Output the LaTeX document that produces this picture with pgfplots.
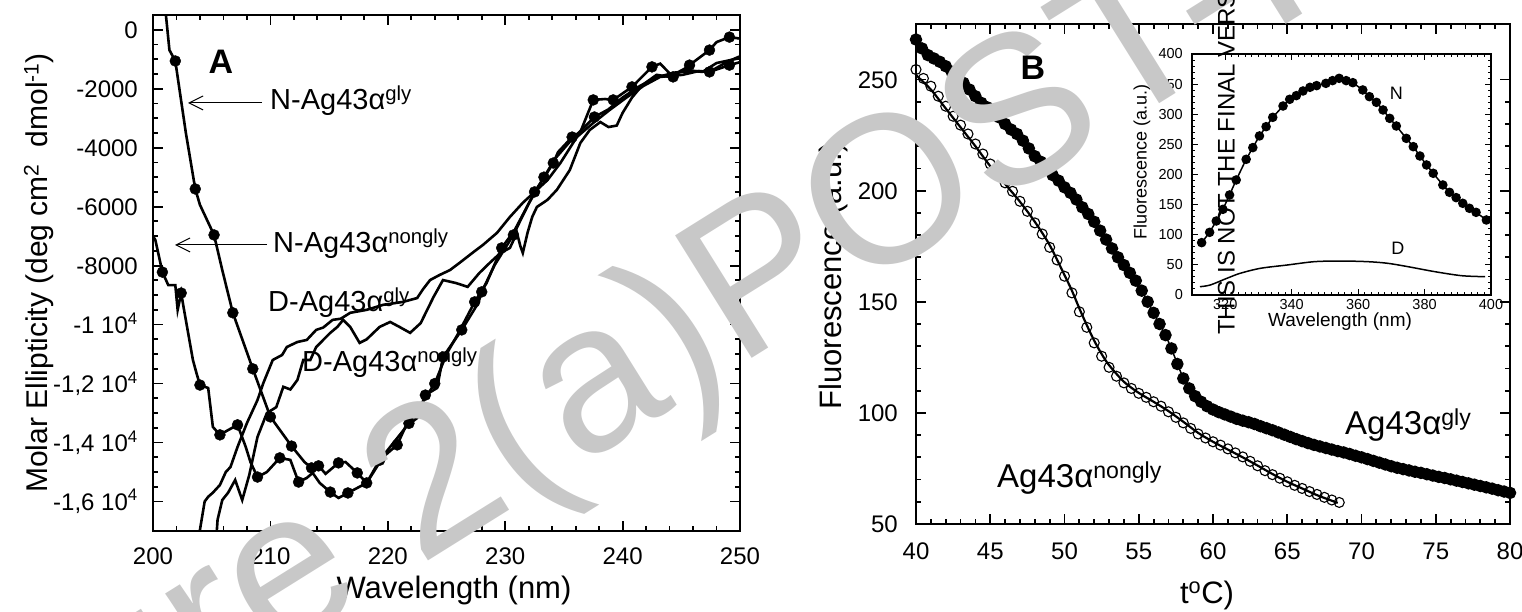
\documentclass[border=0pt]{standalone}
\usepackage{fontspec}
\setmainfont{Liberation Sans}
\usepackage{pgfplots}
\pgfplotsset{compat=1.18}
\usetikzlibrary{arrows.meta}
\newcommand{\fs}[1]{\fontsize{#1}{#1}\selectfont}
\definecolor{wm}{RGB}{200,200,200}
\pgfplotsset{
  mystyle/.style={scale only axis, tick align=inside, tick pos=both,
    major tick length=10pt, minor tick length=5pt,
    every tick/.append style={line width=1.8pt, black},
    axis line style={line width=2.5pt},
    /pgf/number format/assume math mode=true, /pgf/number format/1000 sep={}},
}
\begin{document}
\begin{tikzpicture}[x=1pt,y=1pt]
\useasboundingbox (0,0) rectangle (1522,612);
\clip (0,0) rectangle (1522,612);
% ---------------- Panel A ----------------
\begin{axis}[mystyle,
  at={(153pt,81pt)}, anchor=south west, width=587pt, height=516pt,
  xmin=200, xmax=250, ymin=-17000, ymax=500,
  xtick={200,210,220,230,240,250}, xticklabels={200,210,220,230,240,250},
  minor x tick num=4,
  ytick={0,-2000,-4000,-6000,-8000,-10000,-12000,-14000,-16000},
  yticklabels={0,-2000,-4000,-6000,-8000,{-1 10\textsuperscript{4}},{-1,2 10\textsuperscript{4}},{-1,4 10\textsuperscript{4}},{-1,6 10\textsuperscript{4}}},
  minor y tick num=3, scaled y ticks=false,
  xticklabel style={font=\fs{24}, inner sep=0pt, anchor=north, yshift=-17pt},
  yticklabel style={font=\fs{24}, inner sep=0pt, anchor=base east, xshift=-15pt, yshift=-8.5pt},
]
% N-gly line
\addplot[black, line width=2.6pt] coordinates {
(201.1,500) (201.4,-690) (201.9,-1060) (202.8,-3500) (203.6,-5400) (204.0,-5940) (205.2,-6960) (205.9,-8150) (206.8,-9600) (208.5,-11500) (210.0,-13130) (211.8,-14120) (212.9,-14660) (213.5,-14860) (214.1,-14790) (214.7,-15060) (215.8,-14690) (216.4,-14660) (217.4,-15030) (218.2,-15370)
(219.6,-14490) (220.8,-14080) (221.5,-13470) (222.5,-13170) (223.2,-12390) (224.2,-12150) (224.7,-11100) (226.3,-10180) (227.7,-9270) (228.0,-8890) (229.1,-7980) (230.7,-6960) (231.4,-6380) (232.5,-5500) (233.0,-5200) (234.1,-4520) (234.5,-4150) (235.7,-3640) (236.4,-3470) (237.5,-2380) (238.5,-2350) (239.2,-2380) (240.8,-1940) (242.5,-1260) (243.2,-1150) (244.3,-1600) (245.7,-1200) (247.4,-690) (248.0,-420) (249.1,-250) (250,-300)};
\addplot[only marks, mark=*, mark size=5.5pt, black] coordinates {
(201.9,-1060) (203.6,-5400) (205.2,-6960) (206.8,-9600) (208.5,-11500) (210.0,-13130) (211.8,-14120) (213.5,-14860) (214.1,-14790) (215.8,-14690) (217.4,-15030)
(220.8,-14080) (223.2,-12390) (224.7,-11100) (226.3,-10180) (228.0,-8890) (230.7,-6960) (232.5,-5500) (234.1,-4520) (235.7,-3640) (237.5,-2380) (239.2,-2380) (240.8,-1940) (242.5,-1260) (244.3,-1600) (245.7,-1200) (247.4,-690) (249.1,-250)};
% N-nongly line
\addplot[black, line width=2.6pt] coordinates {
(200.0,-7000) (200.2,-7130) (200.8,-8220) (201.3,-8660) (201.9,-8660) (202.1,-9500) (202.4,-8930) (202.6,-9400) (203.4,-11200) (203.7,-11640) (204.0,-12050) (204.7,-12150) (205.1,-13470) (205.7,-13740) (206.3,-13600) (207.2,-13400) (207.9,-14150) (208.3,-14660) (208.9,-15170) (209.7,-15000) (210.8,-14520) (211.7,-14590) (212.4,-15340) (213.1,-15200) (213.6,-15030) (214.2,-15370) (215.1,-15680) (215.8,-15880) (216.6,-15710) (218.2,-15370)
(219.3,-14600) (220.5,-14000) (221.8,-13350) (223.0,-12600) (224.0,-12000) (225.0,-11000) (226.0,-10300) (227.4,-9230) (228.4,-8600) (229.7,-7400) (230.8,-6800) (232.0,-5900) (233.3,-5000) (234.3,-4350) (235.5,-3800) (237.6,-2960) (238.8,-2700) (240.0,-2300) (241.5,-1900) (243.0,-1600) (244.5,-1450) (246.0,-1400) (247.4,-1430) (249.1,-1200) (250,-1100)};
\addplot[only marks, mark=*, mark size=5.5pt, black] coordinates {
(200.8,-8220) (202.4,-8930) (204.0,-12050) (205.7,-13740) (207.2,-13400) (208.9,-15170) (210.8,-14520) (212.4,-15340) (215.1,-15680) (216.6,-15710) (218.2,-15370)
(219.3,-14600) (221.8,-13350) (224.0,-12000) (227.4,-9230) (229.7,-7400) (233.3,-5000) (237.6,-2960) (247.4,-1430) (249.1,-1200)};
% D-gly
\addplot[black, line width=2.6pt] coordinates {
(203.9,-17200) (204.0,-16960) (204.4,-16000) (204.7,-15840) (205.1,-15700) (205.7,-15440) (206.2,-15000) (206.6,-14830) (207.2,-14150) (208.0,-13340) (208.9,-12560) (209.4,-11980) (210.2,-11200) (211.0,-11030) (211.4,-10760) (212.3,-10590) (213.1,-10520) (213.9,-10180) (214.5,-10100) (215.3,-9840) (216.0,-9800) (216.8,-9600) (218.2,-9500) (219.6,-9330) (221.3,-9230) (222.5,-9100) (223.0,-8800) (223.6,-8490) (224.4,-8320) (225.3,-8150) (226.1,-7910) (227.2,-7570) (228.1,-7300) (229.3,-6890) (230.4,-6350) (231.5,-5870) (232.7,-5430) (233.6,-5100) (234.7,-4520) (236.1,-3640) (237.5,-3160) (238.9,-2720) (240.4,-2280) (241.8,-1900) (243.2,-1600) (245.1,-1530) (246.5,-1400) (247.4,-1430) (248.9,-1090) (250,-900)};
% D-nongly
\addplot[black, line width=2.6pt] coordinates {
(205.4,-17200) (205.5,-16620) (205.9,-15950) (206.4,-15700) (207.0,-15270) (207.6,-15950) (208.2,-15100) (208.9,-13810) (209.7,-13000) (210.5,-12800) (211.1,-12110) (211.7,-12200) (212.3,-11880) (212.8,-11200) (213.4,-11200) (213.9,-10760) (215.1,-10280) (215.7,-10080) (216.2,-9840) (216.8,-10080) (217.6,-10620) (218.2,-10500) (219.3,-10080) (220.2,-9910) (221.0,-10080) (221.9,-10280) (222.8,-9950) (223.9,-9060) (224.7,-8490) (225.8,-8590) (226.8,-8720) (227.8,-8250) (228.7,-7900) (229.6,-7570) (230.4,-7400) (231.0,-6890) (231.3,-7350) (231.5,-7570) (231.9,-6890) (232.3,-6350) (232.7,-6010) (233.6,-5770) (234.4,-5430) (235.5,-4760) (236.4,-3840) (237.2,-3400) (238.1,-3130) (238.8,-3300) (239.5,-3250) (240.0,-2820) (240.8,-2300) (241.7,-1870) (242.9,-1530) (244.0,-1600) (245.1,-1360) (246.8,-1430) (248.0,-1130) (250,-960)};
\end{axis}
% ---------------- Panel B ----------------
\begin{axis}[mystyle,
  at={(916pt,88pt)}, anchor=south west, width=594pt, height=500pt,
  xmin=40, xmax=80, ymin=50, ymax=275,
  xtick={40,45,...,80}, minor x tick num=4,
  ytick={50,100,...,250}, minor y tick num=4,
  xticklabel style={font=\fs{24}, inner sep=0pt, anchor=north, yshift=-19pt},
  yticklabel style={font=\fs{24}, inner sep=0pt, anchor=base east, xshift=-18pt, yshift=-8.5pt},
]
\addplot[black, line width=1.5pt, mark=*, mark size=5.5pt] coordinates {
(40.0,268) (40.4,264) (40.8,261) (41.2,259.5) (41.6,258) (42.0,256) (42.4,253.5) (42.8,251) (43.2,248.5) (43.6,245.5) (44.0,242.5) (44.4,239.5) (44.8,237.5) (45.2,235.5) (45.6,233) (46.0,230) (46.4,227.5) (46.8,225.5) (47.2,222.5) (47.6,219) (48.0,215.5) (48.4,213) (48.8,210) (49.2,207) (49.6,204.5) (50.0,201.5) (50.4,199) (50.8,196) (51.2,192.5) (51.6,189.5) (52.0,186) (52.4,182) (52.8,178) (53.2,174) (53.6,170) (54.0,166.5) (54.4,163) (54.8,159.5) (55.2,155) (55.6,150) (56.0,145) (56.4,140) (56.8,135) (57.2,129) (57.6,122) (58.0,115.5) (58.4,111) (58.8,107.5) (59.2,105) (59.6,103) (60.0,101.5) (60.4,100.3) (60.8,99.3) (61.2,98.3) (61.6,97.3) (62.0,96.5) (62.4,95.8) (62.8,95) (63.2,94) (63.6,93.1) (64.0,92.2) (64.4,91.2) (64.8,90.2) (65.2,89.2) (65.6,88.2) (66.0,87.3) (66.4,86.4) (66.8,85.6) (67.2,84.9) (67.6,84.2) (68.0,83.5) (68.4,82.8) (68.8,82.2) (69.2,81.5) (69.6,80.7) (70.0,80) (70.4,79.2) (70.8,78.4) (71.2,77.6) (71.6,76.8) (72.0,76) (72.4,75.3) (72.8,74.7) (73.2,74.1) (73.6,73.5) (74.0,73) (74.4,72.4) (74.8,71.8) (75.2,71.2) (75.6,70.7) (76.0,70.1) (76.4,69.5) (76.8,68.9) (77.2,68.3) (77.6,67.7) (78.0,67.1) (78.4,66.5) (78.8,65.9) (79.2,65.2) (79.6,64.6) (80.0,64)};
\addplot[only marks, black, mark=o, mark size=5pt, mark options={line width=1.1pt}] coordinates {
(40.0,254.5) (40.5,250.5) (41.0,247) (41.5,242.5) (42.0,238) (42.5,233.5) (43.0,229.5) (43.5,225.5) (44.0,221) (44.5,216.5) (45.0,212) (45.5,207) (46.0,203.5) (46.5,199.7) (47.0,195.2) (47.5,190.7) (48.0,185.5) (48.5,180.5) (49.0,174.5) (49.5,168.8) (50.0,161.5) (50.5,154) (51.0,145.5) (51.5,138.5) (52.0,131.5) (52.5,125.5) (53.0,120.5) (53.5,116.5) (54.0,113.5) (54.5,111) (55.0,108.8) (55.5,107) (56.0,105) (56.5,103) (57.0,100.5) (57.5,98) (58.0,95.5) (58.5,93) (59.0,90.5) (59.5,88.7) (60.0,87) (60.5,85.5) (61.0,83.8) (61.5,82) (62.0,80.2) (62.5,78.2) (63.0,76.2) (63.5,74) (64.0,72.2) (64.5,70.6) (65.0,69) (65.5,67.4) (66.0,66) (66.5,64.6) (67.0,63.3) (67.5,62) (68.0,60.8) (68.5,59.7)};
\addplot[black, line width=2.2pt, smooth] coordinates {
(40,252) (41,245.5) (42,237) (43,228.5) (44,220) (45,211) (46,203) (47,195) (48,186) (49,175.5) (50,162) (50.5,155) (51,147) (51.5,139.5) (52,132.5) (52.5,126.5) (53,121.5) (54,114) (55,109) (56,105) (57,100.8) (58,96) (59,91) (60,87) (61,83.5) (62,80) (63,76.3) (64,72.5) (65,69) (66,66) (67,63) (68.4,59.5)};
\end{axis}
% ---------------- Inset ----------------
\begin{axis}[mystyle,
  at={(1192pt,317pt)}, anchor=south west, width=299pt, height=241pt,
  axis background/.style={fill=white},
  xmin=310, xmax=400, ymin=0, ymax=400,
  xtick={320,340,...,400}, minor x tick num=9,
  ytick={0,50,...,400}, minor y tick num=4,
  major tick length=6pt, minor tick length=3pt,
  every tick/.append style={line width=1pt},
  axis line style={line width=1.5pt},
  xticklabel style={font=\fs{14.5}, inner sep=0pt, anchor=north, yshift=-4pt},
  yticklabel style={font=\fs{14.5}, inner sep=0pt, anchor=base east, xshift=-9pt, yshift=-5pt},
]
\addplot[black, line width=1.5pt] coordinates {(312.5,82) (312.9,86.9)};
\addplot[black, line width=1.5pt, mark=*, mark size=4pt] coordinates {
(312.9,86.9) (315.3,104) (317.3,122.8) (319.3,142.2) (321.3,166) (323.3,190.9) (326.3,225.2) (328.3,244.6) (330.3,264) (332.3,279.4) (334.3,294.9) (337.4,313.7) (339.4,324.8) (341.4,330.9) (343.4,338.6) (345.5,344.7) (347.5,347.5) (350.3,351.3) (352.3,355.8) (354.3,359.6) (356.4,355.8) (358.4,352.4) (361.4,340.3) (363.4,329.2) (365.5,319.8) (367.5,307.1) (369.5,293.2) (371.5,280.5) (374.5,260) (376.6,246.2) (378.6,230.7) (380.6,215.8) (382.6,202) (385.5,182.6) (387.5,170.4) (389.5,161.6) (391.5,152.2) (393.5,143.9) (395.5,137.2) (398.6,124.5)};
\addplot[black, line width=1.5pt, smooth] coordinates {
(312.4,13.8) (315.5,16.6) (320.5,27.7) (324.5,36) (330.6,44.3) (338.7,49.8) (346.8,55.3) (354.8,56.4) (362.9,55.3) (368.9,52.6) (375,47) (383.1,38.7) (391.2,32) (398.2,30.4)};
\node[font=\fs{18}] at (axis cs:371.5,335) {N};
\node[font=\fs{18}] at (axis cs:372,78) {D};
\end{axis}
% ---------------- Labels ----------------
\node[rotate=90, font=\fs{30}] at (39,339) {Molar Ellipticity (deg cm\textsuperscript{2}\ \ dmol\textsuperscript{-1})};
\node[font=\fs{31}] at (454,22) {Wavelength (nm)};
\node[rotate=90, font=\fs{31}] at (833,336) {Fluorescence (a.u.)};
\node[font=\fs{31}] at (1207,17) {t\textsuperscript{o}C)};
\node[rotate=90, font=\fs{18}] at (1142,450) {Fluorescence (a.u.)};
\node[font=\fs{19}] at (1340,290) {Wavelength (nm)};
\node[font=\bfseries\fs{34}] at (221,550.5) {A};
\node[anchor=base west, inner sep=0pt, font=\fs{29}] at (270,502) {N-Ag43α\textsuperscript{gly}};
\draw[line width=1pt, -{Straight Barb[length=14pt,width=14pt]}] (262,509) -- (188,509);
\node[anchor=base west, inner sep=0pt, font=\fs{29}] at (273,359) {N-Ag43α\textsuperscript{nongly}};
\draw[line width=1pt, -{Straight Barb[length=14pt,width=14pt]}] (267,367) -- (175,367);
\node[anchor=base west, inner sep=0pt, font=\fs{29}] at (268,300) {D-Ag43α\textsuperscript{gly}};
\node[anchor=base west, inner sep=0pt, font=\fs{29}] at (302,240) {D-Ag43α\textsuperscript{nongly}};
\node[anchor=base west, inner sep=0pt, font=\fs{33}] at (997,124) {Ag43α\textsuperscript{nongly}};
\node[anchor=base west, inner sep=0pt, font=\fs{33}] at (1345,177) {Ag43α\textsuperscript{gly}};
% ---------------- Watermarks ----------------
\node[rotate=32, anchor=base east, inner sep=0pt, text=wm, font=\fs{210}] at (737,244) {Figure 2(a)};
\node[rotate=32, anchor=base west, inner sep=0pt, text=wm, font=\fs{210}] at (737,244) {POST-PRINT};
\node[font=\bfseries\fs{34}] at (1033,544) {B};
\node[rotate=90, anchor=base west, inner sep=0pt, font=\fs{24}] at (1234.5,277) {THIS IS NOT THE FINAL VERSION};
\end{tikzpicture}
\end{document}
